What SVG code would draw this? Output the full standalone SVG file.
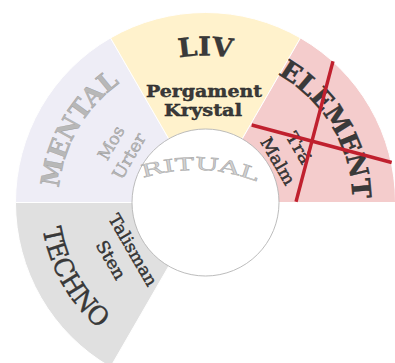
<svg xmlns="http://www.w3.org/2000/svg" width="395" height="363" viewBox="0 0 395 363">
<style>
.sec{stroke:#ffffff;stroke-width:1}
.big{font-family:"DejaVu Serif","Liberation Serif",serif;font-size:26px}
.small{font-family:"DejaVu Serif","Liberation Serif",serif;font-size:17px}
.dark{fill:#3a3a3a;stroke:#222;stroke-width:0.4}
.light{fill:#b8b8b8;stroke:#9a9a9a;stroke-width:0.4}
.cross{stroke:#c0202e;stroke-width:3.4;stroke-linecap:butt}
</style>
<defs>
<path id="pMental" d="M 63.5 240.55 A 147 147 0 0 1 167.45 60.5"/>
<path id="pLiv" d="M 101.56 98.56 A 147 147 0 0 1 309.44 98.56"/>
<path id="pElem" d="M 241.06 59.87 A 147 147 0 0 1 348.13 238.06"/>
<path id="pTechno" d="M 46.42 158.68 A 165 165 0 0 0 161.68 361.58"/>
<path id="pRitual" d="M 74.8 219.8 A 170 170 0 0 1 315.2 219.8"/>
</defs>

<g id="techno">
<path class="sec" fill="#e0e0e0" d="M 205.5 202.5 L 15.5 202.5 A 190 190 0 0 0 110.5 367.05 Z"/>
<text class="big dark" font-size="23"><textPath href="#pTechno" startOffset="50%" text-anchor="middle" textLength="117" lengthAdjust="spacingAndGlyphs">TECHNO</textPath></text>
<text class="small dark" text-anchor="middle" transform="translate(133,250) rotate(60)" dy="0.35em" textLength="80" lengthAdjust="spacingAndGlyphs">Talisman</text>
<text class="small dark" text-anchor="middle" transform="translate(111,260) rotate(60)" dy="0.35em" textLength="42" lengthAdjust="spacingAndGlyphs">Sten</text>
</g>

<g id="mental">
<path class="sec" fill="#eeedf6" d="M 205.5 202.5 L 15.5 202.5 A 190 190 0 0 1 110.5 37.95 Z"/>
<text class="big light" font-weight="bold"><textPath href="#pMental" startOffset="50%" text-anchor="middle" textLength="125" lengthAdjust="spacingAndGlyphs">MENTAL</textPath></text>
<text class="small light" text-anchor="middle" transform="translate(111,143) rotate(-60)" dy="0.35em" textLength="36" lengthAdjust="spacingAndGlyphs">Mos</text>
<text class="small light" text-anchor="middle" transform="translate(129,156) rotate(-60)" dy="0.35em" textLength="50" lengthAdjust="spacingAndGlyphs">Urter</text>
</g>

<g id="liv">
<path class="sec" fill="#fff2cc" d="M 205.5 202.5 L 110.5 37.95 A 190 190 0 0 1 300.5 37.95 Z"/>
<text class="big dark" font-weight="bold"><textPath href="#pLiv" startOffset="50%" text-anchor="middle" textLength="53" lengthAdjust="spacingAndGlyphs">LIV</textPath></text>
<text class="small dark" font-size="15.5" font-weight="bold" x="204" y="96.5" text-anchor="middle" textLength="116" lengthAdjust="spacingAndGlyphs">Pergament</text>
<text class="small dark" font-size="15.5" font-weight="bold" x="203" y="115.5" text-anchor="middle" textLength="78" lengthAdjust="spacingAndGlyphs">Krystal</text>
</g>

<g id="element">
<path class="sec" fill="#f4cccc" d="M 205.5 202.5 L 300.5 37.95 A 190 190 0 0 1 395.5 202.5 Z"/>
<text class="big dark" font-weight="bold"><textPath href="#pElem" startOffset="50%" text-anchor="middle" textLength="152" lengthAdjust="spacingAndGlyphs">ELEMENT</textPath></text>
<text class="small dark" text-anchor="middle" transform="translate(299,148) rotate(60)" dy="0.35em" textLength="34" lengthAdjust="spacingAndGlyphs">Trä</text>
<text class="small dark" text-anchor="middle" transform="translate(278,161) rotate(60)" dy="0.35em" textLength="52" lengthAdjust="spacingAndGlyphs">Malm</text>
</g>

<g id="ritual">
<circle cx="205.5" cy="202.5" r="73.5" fill="#ffffff" stroke="#b4b4b4" stroke-width="0.9"/>
<text font-family="DejaVu Serif, Liberation Serif, serif" font-size="17.5" fill="#d2d2d2" stroke="#a8a8a8" stroke-width="0.45"><textPath href="#pRitual" startOffset="51.9%" text-anchor="middle" textLength="116" lengthAdjust="spacingAndGlyphs">RITUAL</textPath></text>
</g>

<g id="connectors">
<line class="cross" x1="251.7" y1="125" x2="391.7" y2="162.5"/>
<line class="cross" x1="333" y1="61.3" x2="296" y2="201.7"/>
</g>
</svg>
